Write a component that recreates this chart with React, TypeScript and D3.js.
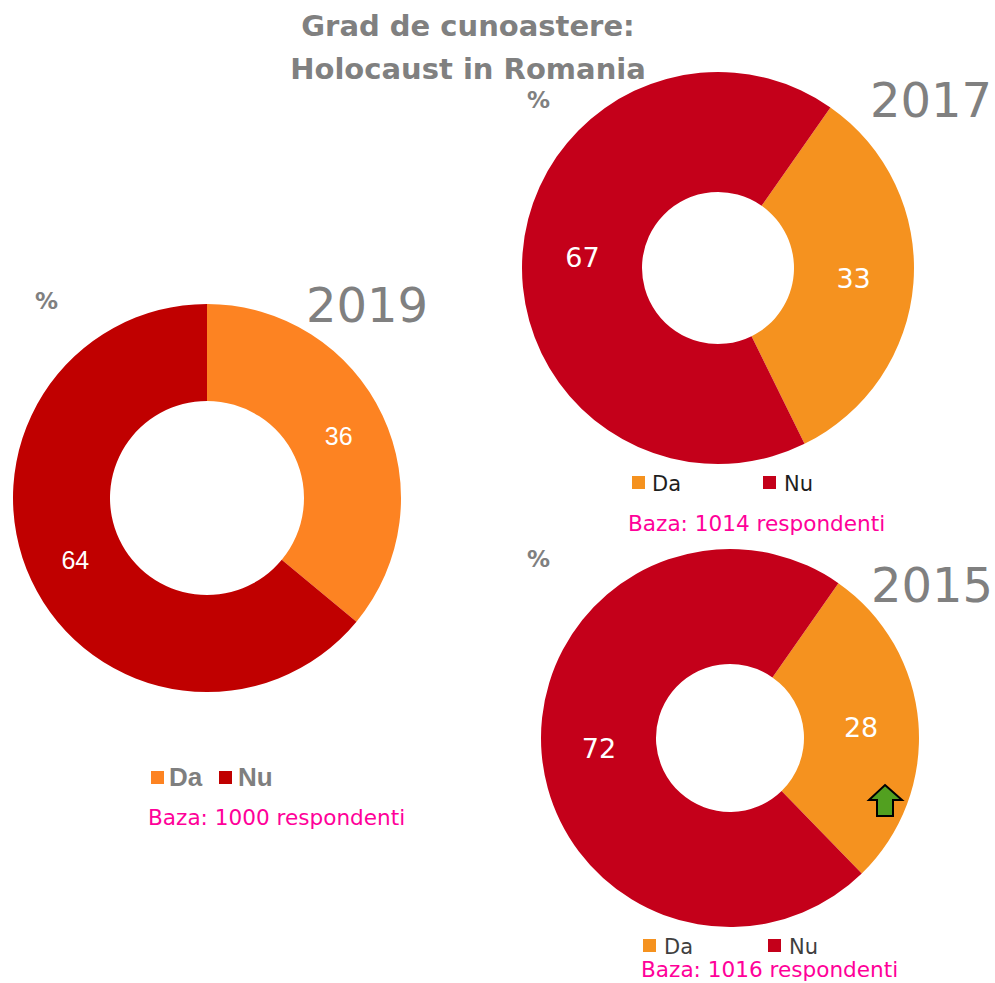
import * as d3 from "d3";

// Data
const categories = ["Da", "Nu"];
const years = ["2019", "2017", "2015"];
const values2019 = [36, 64];
const values2017 = [33, 67];
const values2015 = [28, 72];
const respondents = [1000, 1014, 1016];
const titleLines = ["Grad de cunoastere:", "Holocaust in Romania"];

const W = 995;
const H = 983;
const GRAY = "#808080";
const PINK = "#ff0099";
const VERDANA = "'DejaVu Sans', Verdana, sans-serif";
const ARIAL = "'Liberation Sans', Arial, sans-serif";

type Layout = {
  cx: number;
  cy: number;
  outer: number;
  inner: number;
  start: number; // degrees, clockwise from 12 o'clock
  colors: string[];
  labelFont: string;
  labelSize: number;
  year: { x: number; y: number };
  pct: { x: number; y: number };
  legend: {
    y: number;
    swatchX: number[];
    textX: number[];
    font: string;
    size: number;
    weight: string;
    color: string;
  };
  baza: { x: number; y: number };
};

const layouts: Layout[] = [
  {
    cx: 207, cy: 498, outer: 194, inner: 97, start: 0,
    colors: ["#fd8322", "#c00000"],
    labelFont: ARIAL, labelSize: 25,
    year: { x: 306, y: 322 },
    pct: { x: 35, y: 309 },
    legend: { y: 786, swatchX: [151, 219], textX: [169, 238], font: ARIAL, size: 26, weight: "bold", color: "#7f7f7f" },
    baza: { x: 148, y: 825 },
  },
  {
    cx: 718, cy: 268, outer: 196, inner: 76, start: 35,
    colors: ["#f5921f", "#c4001a"],
    labelFont: VERDANA, labelSize: 27,
    year: { x: 870, y: 117 },
    pct: { x: 527, y: 108 },
    legend: { y: 491, swatchX: [632, 763], textX: [652, 784], font: VERDANA, size: 21, weight: "normal", color: "#1e1e1e" },
    baza: { x: 628, y: 531 },
  },
  {
    cx: 730, cy: 738, outer: 189, inner: 74, start: 35,
    colors: ["#f5921f", "#c4001a"],
    labelFont: VERDANA, labelSize: 27,
    year: { x: 871, y: 602 },
    pct: { x: 527, y: 567 },
    legend: { y: 954, swatchX: [643, 768], textX: [664, 789], font: VERDANA, size: 21, weight: "normal", color: "#3f3f3f" },
    baza: { x: 641, y: 977 },
  },
];

const seriesValues = [values2019, values2017, values2015];

function Donut({ values, layout, year, n }: { values: number[]; layout: Layout; year: string; n: number }) {
  const start = (layout.start * Math.PI) / 180;
  const pie = d3
    .pie<number>()
    .sort(null)
    .value((d) => d)
    .startAngle(start)
    .endAngle(start + 2 * Math.PI);
  const arc = d3.arc<d3.PieArcDatum<number>>().innerRadius(layout.inner).outerRadius(layout.outer);
  const color = d3.scaleOrdinal<string, string>().domain(categories).range(layout.colors);
  const arcs = pie(values);
  const sw = 13;

  return (
    <g>
      <g transform={`translate(${layout.cx},${layout.cy})`}>
        {arcs.map((a, i) => (
          <path key={i} d={arc(a) || ""} fill={color(categories[i])} />
        ))}
        {arcs.map((a, i) => {
          const [x, y] = arc.centroid(a);
          return (
            <text
              key={"l" + i}
              x={x}
              y={y}
              textAnchor="middle"
              dominantBaseline="central"
              fill="#fff"
              fontFamily={layout.labelFont}
              fontSize={layout.labelSize}
            >
              {a.data}
            </text>
          );
        })}
      </g>
      <text x={layout.year.x} y={layout.year.y} fill={GRAY} fontFamily={VERDANA} fontSize={48}>
        {year}
      </text>
      <text x={layout.pct.x} y={layout.pct.y} fill={GRAY} fontFamily={VERDANA} fontWeight="bold" fontSize={23}>
        %
      </text>
      {categories.map((c, i) => (
        <g key={c}>
          <rect x={layout.legend.swatchX[i]} y={layout.legend.y - 15} width={sw} height={sw} fill={color(c)} />
          <text
            x={layout.legend.textX[i]}
            y={layout.legend.y}
            fill={layout.legend.color}
            fontFamily={layout.legend.font}
            fontWeight={layout.legend.weight}
            fontSize={layout.legend.size}
          >
            {c}
          </text>
        </g>
      ))}
      <text x={layout.baza.x} y={layout.baza.y} fill={PINK} fontFamily={VERDANA} fontSize={21.6}>
        {`Baza: ${n} respondenti`}
      </text>
    </g>
  );
}

export default function App() {
  return (
    <svg
      width={W}
      height={H}
      viewBox={`0 0 ${W} ${H}`}
      style={{ position: "absolute", left: 0, top: 0, background: "#fff" }}
    >
      {titleLines.map((t, i) => (
        <text
          key={t}
          x={468}
          y={36 + i * 43}
          textAnchor="middle"
          fill={GRAY}
          fontFamily={VERDANA}
          fontWeight="bold"
          fontSize={29}
        >
          {t}
        </text>
      ))}
      {years.map((y, i) => (
        <Donut key={y} values={seriesValues[i]} layout={layouts[i]} year={y} n={respondents[i]} />
      ))}
      {/* green up arrow annotation on 2015 "Da" slice */}
      <path
        d="M885,785 L902,800 L893,800 L893,816 L877,816 L877,800 L869,800 Z"
        fill="#52a020"
        stroke="#000"
        strokeWidth={2}
        strokeLinejoin="miter"
      />
    </svg>
  );
}
